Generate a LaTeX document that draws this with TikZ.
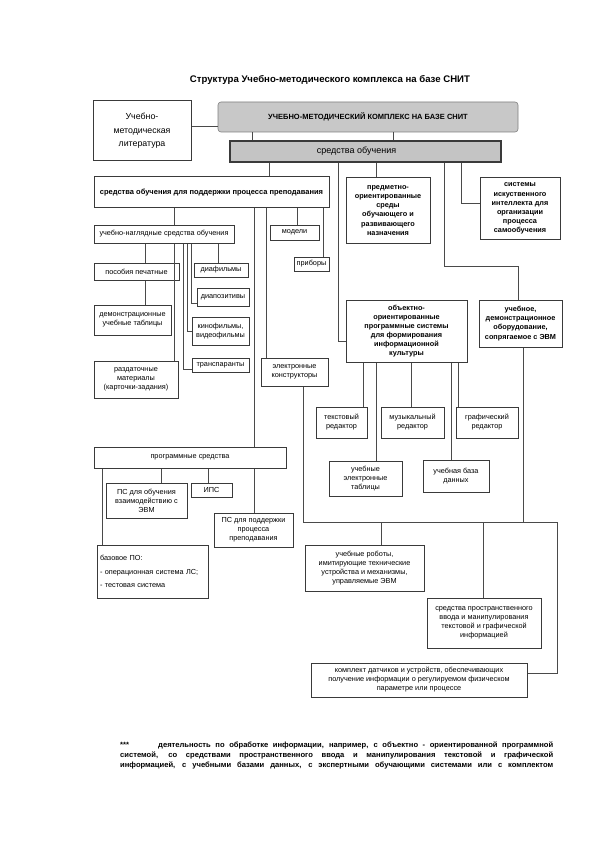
\documentclass[tikz,border=0pt]{standalone}
\usepackage{fontspec}
\setmainfont{Liberation Sans}
\newcommand\fsz[2]{\fontsize{#1}{#2}\selectfont}
\definecolor{bc}{HTML}{3A3A3A}
\definecolor{lc}{HTML}{4A4A4A}
\definecolor{umkc}{HTML}{C8C8C8}
\definecolor{soc}{HTML}{C4C4C4}
\begin{document}
\begin{tikzpicture}[x=1pt,y=-1pt,
  bx/.style={draw=bc, line width=1pt, fill=white, inner sep=0pt, align=center, font=\fsz{7.3}{9}},
  bb/.style={bx, font=\bfseries\fsz{7.3}{9.1}},
  ln/.style={draw=lc, line width=0.7pt},
  fn/.style={anchor=west, inner sep=0pt, font=\bfseries\fsz{7.6}{9}}]
\useasboundingbox[fill=white] (0,0) rectangle (595,842);

\node[font=\bfseries\fsz{9.6}{11}] (title) at (330,80) {Структура Учебно-методического комплекса на базе СНИТ};

\node[bx, minimum width=98pt, minimum height=60pt, font=\fsz{8.8}{13.5}] (lit) at (142,131) {Учебно-\\методическая\\литература};
\node[bx, fill=umkc, draw=gray, line width=0.6pt, rounded corners=3pt, minimum width=300pt, minimum height=30pt, font=\bfseries\fsz{7.5}{8}] (umk) at (368,117) {УЧЕБНО-МЕТОДИЧЕСКИЙ КОМПЛЕКС НА БАЗЕ СНИТ};
\node[bx, fill=soc, line width=1.3pt, minimum width=271pt, minimum height=21pt, font=\fsz{9}{10}] (so) at (365.5,151.5) {\hspace*{-18pt}средства обучения};

\node[bb, minimum width=235pt, minimum height=31pt, font=\bfseries\fsz{7.5}{9}] (podd) at (211.5,192.5) {средства обучения для поддержки процесса преподавания};
\node[bb, minimum width=84pt, minimum height=65pt] (predm) at (388,210.5) {предметно-\\ориентированные\\среды\\обучающего и\\развивающего\\назначения};
\node[bb, minimum width=80pt, minimum height=61pt] (sist) at (520,208.5) {системы\\искуственного\\интеллекта для\\организации\\процесса\\самообучения};

\node[bx, minimum width=140pt, minimum height=18pt] (ung) at (164,234) {учебно-наглядные средства обучения};
\node[bx, minimum width=49pt, minimum height=15pt] (model) at (294.5,232.5) {модели};
\node[bx, minimum width=35pt, minimum height=14pt] (pribor) at (311.5,264) {приборы};
\node[bx, minimum width=85pt, minimum height=17pt] (posob) at (136.5,271.5) {пособия печатные};
\node[bx, minimum width=54pt, minimum height=14pt] (diaf) at (221,270) {диафильмы};
\node[bx, minimum width=52pt, minimum height=18pt] (diap) at (223,297) {диапозитивы};
\node[bx, minimum width=57pt, minimum height=28pt] (kino) at (220.5,331) {кинофильмы,\\видеофильмы};
\node[bx, minimum width=57pt, minimum height=14pt] (trans) at (220.5,365) {транспаранты};
\node[bx, minimum width=77pt, minimum height=30pt] (demo) at (132.5,320) {демонстрационные\\учебные таблицы};
\node[bx, minimum width=84pt, minimum height=37pt] (razd) at (136,379.5) {раздаточные\\материалы\\(карточки-задания)};
\node[bx, minimum width=67pt, minimum height=28pt] (elk) at (294.5,372) {электронные\\конструкторы};

\node[bb, minimum width=121pt, minimum height=62pt] (obj) at (406.5,331) {объектно-\\ориентированные\\программные системы\\для формирования\\информационной\\культуры};
\node[bb, minimum width=83pt, minimum height=47pt] (ucho) at (520.5,323.5) {учебное,\\демонстрационное\\оборудование,\\сопрягаемое с ЭВМ};

\node[bx, minimum width=51pt, minimum height=31pt] (tekst) at (341.5,422.5) {текстовый\\редактор};
\node[bx, minimum width=63pt, minimum height=31pt] (muz) at (412.5,422.5) {музыкальный\\редактор};
\node[bx, minimum width=62pt, minimum height=31pt] (graf) at (487,422.5) {графический\\редактор};
\node[bx, minimum width=73pt, minimum height=35pt] (tabl) at (365.5,478.5) {учебные\\электронные\\таблицы};
\node[bx, minimum width=66pt, minimum height=32pt] (baza) at (456,476) {учебная база\\данных};

\node[bx, minimum width=192pt, minimum height=21pt] (progr) at (190,457.5) {программные средства};
\node[bx, minimum width=81pt, minimum height=35pt] (psob) at (146.5,500.5) {ПС для обучения\\взаимодействию с\\ЭВМ};
\node[bx, minimum width=41pt, minimum height=14pt] (ips) at (211.5,490) {ИПС};
\node[bx, minimum width=79pt, minimum height=34pt] (pspod) at (253.5,530) {ПС для поддержки\\процесса\\преподавания};
\node[bx, minimum width=111pt, minimum height=53pt, align=left, text width=105pt, font=\fsz{7.3}{13.5}] (baz) at (152.5,571.5) {базовое ПО:\\- операционная система ЛС;\\- тестовая система};

\node[bx, minimum width=119pt, minimum height=46pt] (robot) at (364.5,568) {учебные роботы,\\имитирующие технические\\устройства и механизмы,\\управляемые ЭВМ};
\node[bx, minimum width=114pt, minimum height=50pt] (prostr) at (484,623) {средства пространственного\\ввода и манипулирования\\текстовой и графической\\информацией};
\node[bx, minimum width=216pt, minimum height=34pt] (kompl) at (419,680) {комплект датчиков и устройств, обеспечивающих\\получение информации о регулируемом физическом\\параметре или процессе};

% connectors
\draw[ln] (lit.east |- 0,126) -- (umk.west |- 0,126);
\draw[ln] (umk.south -| 252,0) -- (so.north -| 252,0);
\draw[ln] (umk.south -| 393,0) -- (so.north -| 393,0);
\draw[ln] (so.south -| 269,0) -- (podd.north -| 269,0);
\draw[ln] (so.south -| 338,0) |- (obj.west |- 0,341);
\draw[ln] (so.south -| 376,0) -- (predm.north -| 376,0);
\coordinate (uc1) at (518,266);
\draw[ln] (so.south -| 444,0) |- (uc1) -- (ucho.north -| uc1);
\draw[ln] (so.south -| 461,0) |- (sist.west |- 0,203);

\draw[ln] (podd.south -| 174,0) -- (ung.north -| 174,0);
\draw[ln] (podd.south -| 254,0) -- (progr.north -| 254,0);
\draw[ln] (podd.south -| 266,0) -- (elk.north -| 266,0);
\draw[ln] (podd.south -| 297,0) -- (model.north -| 297,0);
\draw[ln] (podd.south -| 323,0) -- (pribor.north -| 323,0);

\draw[ln] (ung.south -| 145,0) -- (posob.north -| 145,0);
\draw[ln] (posob.south -| 145,0) -- (demo.north -| 145,0);
\draw[ln] (ung.south -| 174,0) -- (razd.north -| 174,0);
\draw[ln] (ung.south -| 183,0) |- (trans.west |- 0,369);
\draw[ln] (ung.south -| 187,0) |- (kino.west);
\draw[ln] (ung.south -| 191,0) |- (diap.west |- 0,303);
\draw[ln] (ung.south -| 218,0) -- (diaf.north -| 218,0);

\coordinate (h1) at (303,522);
\coordinate (h2) at (557,522);
\coordinate (h3) at (557,673);
\draw[ln] (elk.south -| h1) -- (h1) -- (h2) -- (h3) -- (kompl.east |- h3);
\draw[ln] (ucho.south -| 523,0) -- (523,522);
\draw[ln] (381,522) -- (robot.north -| 381,0);
\draw[ln] (483,522) -- (prostr.north -| 483,0);

\draw[ln] (obj.south -| 363,0) -- (tekst.north -| 363,0);
\draw[ln] (obj.south -| 376,0) -- (tabl.north -| 376,0);
\draw[ln] (obj.south -| 411,0) -- (muz.north -| 411,0);
\draw[ln] (obj.south -| 451,0) -- (baza.north -| 451,0);
\draw[ln] (obj.south -| 458,0) -- (graf.north -| 458,0);

\draw[ln] (progr.south -| 102,0) -- (baz.north -| 102,0);
\draw[ln] (progr.south -| 161,0) -- (psob.north -| 161,0);
\draw[ln] (progr.south -| 208,0) -- (ips.north -| 208,0);
\draw[ln] (progr.south -| 254,0) -- (pspod.north -| 254,0);

% footnote
\node[fn] (fn1) at (120,745) {\makebox[38pt][l]{***}\makebox[395pt][s]{деятельность по обработке информации, например, с объектно - ориентированной программной}};
\node[fn] (fn2) at (120,755) {\makebox[433pt][s]{системой, со средствами пространственного ввода и манипулирования текстовой и графической}};
\node[fn] (fn3) at (120,765) {\makebox[433pt][s]{информацией, с учебными базами данных, с экспертными обучающими системами или с комплектом}};
\end{tikzpicture}
\end{document}
